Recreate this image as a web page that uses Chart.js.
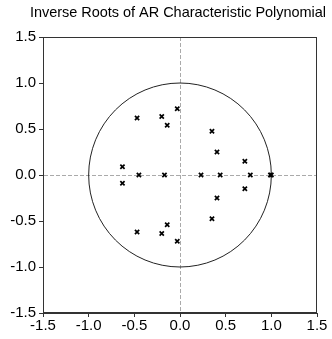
<!DOCTYPE html>
<html><head><meta charset="utf-8">
<script src="https://cdn.jsdelivr.net/npm/chart.js@4/dist/chart.umd.min.js"></script>
<style>html,body{margin:0;padding:0;background:#fff}#wrap{width:332px;height:339px}</style>
</head><body><div id="wrap"><canvas id="c" width="332" height="339"></canvas></div>
<script>
const titleText = "Inverse Roots of AR Characteristic Polynomial";
const tickValues = [-1.5, -1.0, -0.5, 0.0, 0.5, 1.0, 1.5];
const rootsReal = [-0.03, -0.03, -0.47, -0.47, -0.20, -0.20, -0.14, -0.14, -0.63, -0.63,
                   0.35, 0.35, 0.405, 0.405, 0.71, 0.71,
                   -0.45, -0.17, 0.23, 0.44, 0.77, 0.99, 1.0];
const rootsImag = [0.72, -0.72, 0.62, -0.62, 0.635, -0.635, 0.54, -0.54, 0.09, -0.09,
                   0.475, -0.475, 0.25, -0.25, 0.15, -0.15,
                   0, 0, 0, 0, 0, 0, 0];
const unitRadius = 1;

const points = rootsReal.map((x, i) => ({x: x, y: rootsImag[i]}));
const font = {family: "'Liberation Sans', Arial, sans-serif", size: 15};

const framePlugin = {
  id: 'frame',
  beforeDatasetsDraw(chart) {
    const {ctx, scales: {x, y}} = chart;
    ctx.save();
    const cx = x.getPixelForValue(0), cy = y.getPixelForValue(0);
    const rx = x.getPixelForValue(unitRadius) - cx;
    const ry = cy - y.getPixelForValue(unitRadius);
    ctx.beginPath();
    ctx.ellipse(cx, cy, rx, ry, 0, 0, Math.PI * 2);
    ctx.strokeStyle = '#222';
    ctx.lineWidth = 1;
    ctx.stroke();
    ctx.restore();
  },
  afterDraw(chart) {
    const {ctx, chartArea: a} = chart;
    ctx.save();
    ctx.strokeStyle = '#333';
    ctx.lineWidth = 1;
    ctx.strokeRect(Math.round(a.left) + 0.5, Math.round(a.top) + 0.5,
                   Math.round(a.right - a.left) - 1, Math.round(a.bottom - a.top) - 1);
    ctx.fillStyle = '#000';
    ctx.font = "14.5px 'Liberation Sans', Arial, sans-serif";
    ctx.textAlign = 'center';
    ctx.textBaseline = 'middle';
    const w = ctx.measureText(titleText).width;
    const target = 296;
    if ('letterSpacing' in ctx) ctx.letterSpacing = ((target - w) / titleText.length) + 'px';
    ctx.fillText(titleText, 178, 13);
    ctx.restore();
  }
};

new Chart(document.getElementById('c'), {
  type: 'scatter',
  data: {datasets: [{
    data: points,
    pointStyle: 'crossRot',
    radius: 3,
    hoverRadius: 3,
    borderColor: '#000',
    backgroundColor: '#000',
    borderWidth: 1.7
  }]},
  options: {
    responsive: false,
    animation: false,
    events: [],
    layout: {padding: {top: 37, right: 15, left: 0, bottom: 0}},
    plugins: {legend: {display: false}, tooltip: {enabled: false}, title: {display: false}},
    scales: {
      x: {
        type: 'linear', min: -1.5, max: 1.5,
        afterBuildTicks: s => { s.ticks = tickValues.map(v => ({value: v})); },
        afterFit: s => { s.height = 26; },
        ticks: {color: '#000', font: font, padding: 0, maxRotation: 0,
                callback: v => Number(v).toFixed(1)},
        grid: {
          color: c => (c.tick && c.tick.value === 0) ? '#aaa' : 'transparent',
          lineWidth: 1, drawTicks: true, tickLength: 4, tickColor: '#333', tickBorderDash: []
        },
        border: {display: true, color: '#333', width: 1, dash: [4, 2]}
      },
      y: {
        type: 'linear', min: -1.5, max: 1.5,
        afterBuildTicks: s => { s.ticks = tickValues.map(v => ({value: v})); },
        afterFit: s => { s.width = 43; },
        ticks: {color: '#000', font: font, padding: 3,
                callback: v => Number(v).toFixed(1)},
        grid: {
          color: c => (c.tick && c.tick.value === 0) ? '#aaa' : 'transparent',
          lineWidth: 1, drawTicks: true, tickLength: 4, tickColor: '#333', tickBorderDash: []
        },
        border: {display: true, color: '#333', width: 1, dash: [4, 2]}
      }
    }
  },
  plugins: [framePlugin]
});
</script>
</body></html>
